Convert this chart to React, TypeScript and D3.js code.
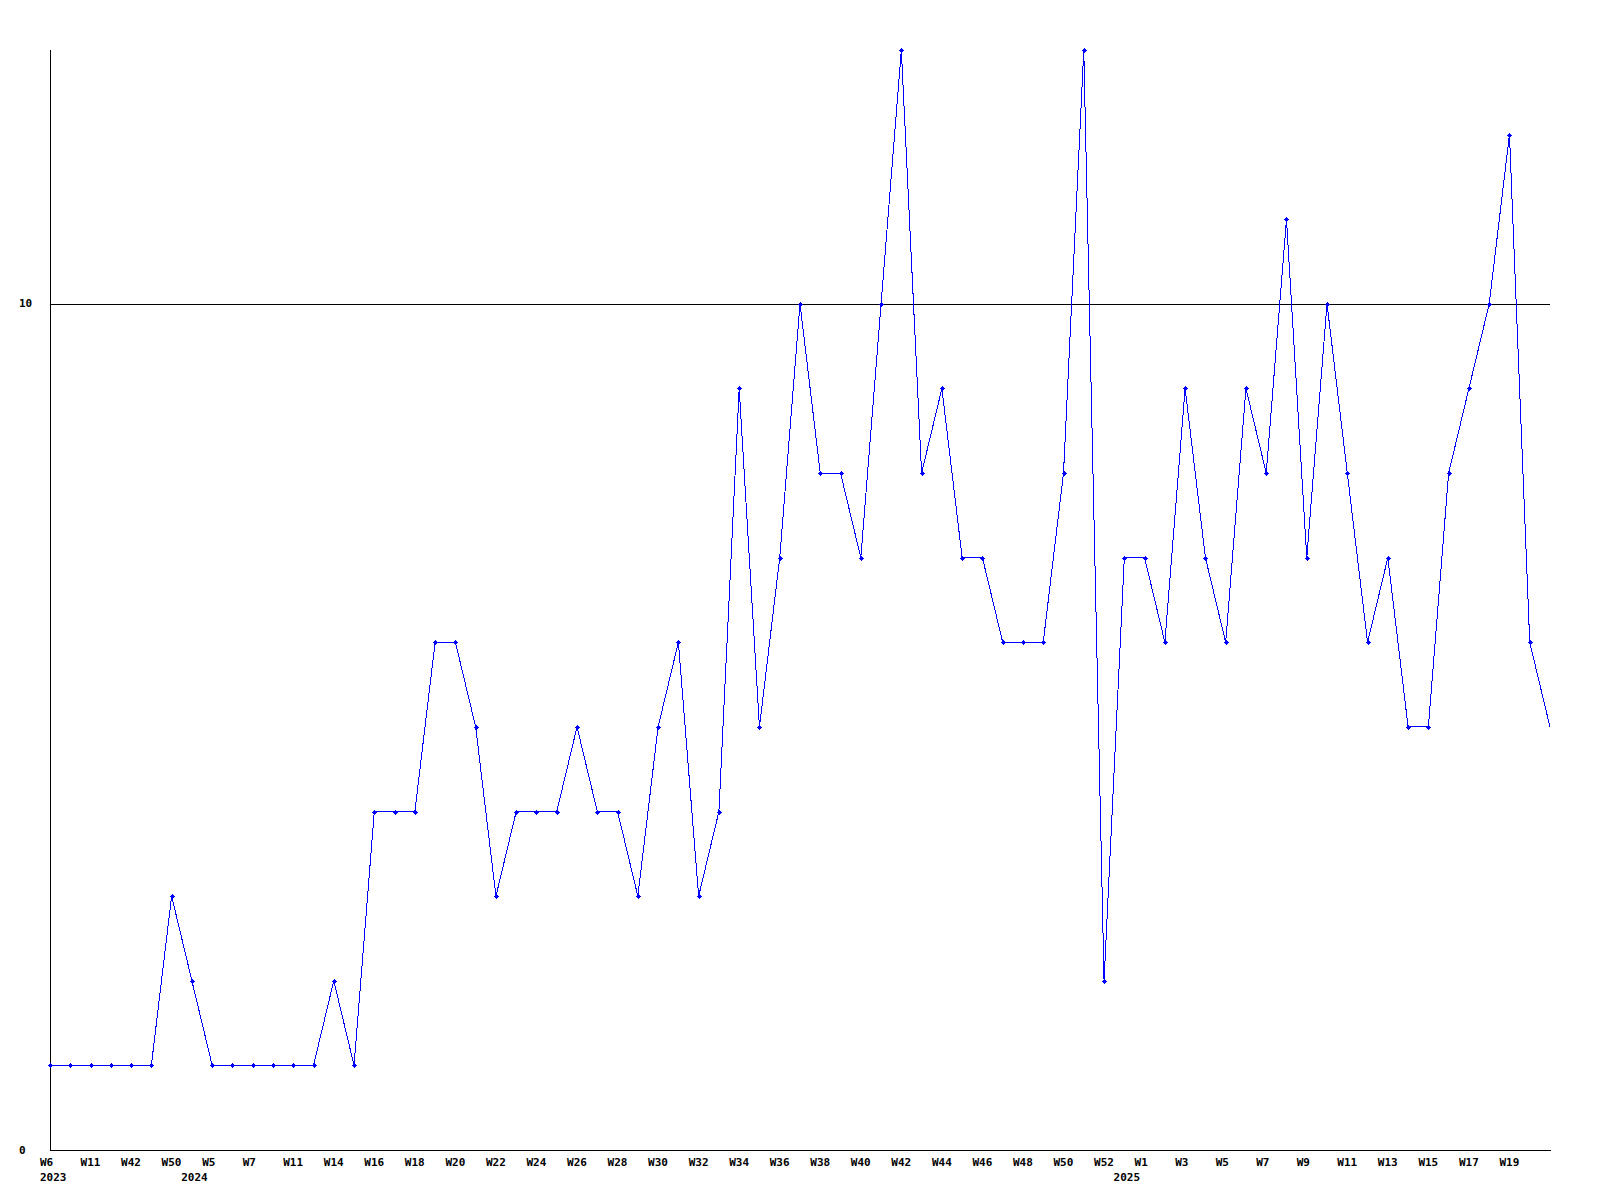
import React from "react";
import * as d3 from "d3";

const values: number[] = [
  1, 1, 1, 1, 1, 1, 3, 2, 1, 1, 1, 1, 1, 1, 2, 1, 4, 4, 4, 6,
  6, 5, 3, 4, 4, 4, 5, 4, 4, 3, 5, 6, 3, 4, 9, 5, 7, 10, 8, 8,
  7, 10, 13, 8, 9, 7, 7, 6, 6, 6, 8, 13, 2, 7, 7, 6, 9, 7, 6, 9,
  8, 11, 7, 10, 8, 6, 7, 5, 5, 8, 9, 10, 12, 6, 5,
];

const weekLabels: string[] = [
  "W6", "W11", "W42", "W50", "W5", "W7", "W11", "W14", "W16", "W18",
  "W20", "W22", "W24", "W26", "W28", "W30", "W32", "W34", "W36", "W38",
  "W40", "W42", "W44", "W46", "W48", "W50", "W52", "W1", "W3", "W5",
  "W7", "W9", "W11", "W13", "W15", "W17", "W19",
];

const yearLabels: string[] = ["2023", "2024", "2025"];
const yearPointIndex: number[] = [0, 8, 54];

const yTicks: number[] = [0, 10];
const yMax = 13;

const W = 1600;
const H = 1200;
const left = 50;
const right = 1550;
const top = 50;
const bottom = 1150;

export default function App() {
  const x = d3.scaleLinear().domain([0, values.length - 1]).range([left, right]);
  const y = d3.scaleLinear().domain([0, yMax]).range([bottom, top]);
  const line = d3
    .line<number>()
    .x((_, i) => x(i))
    .y((d) => y(d));

  const markerPath = (cx: number, cy: number) => {
    const a = Math.round(cx);
    const b = Math.round(cy);
    return `M${a - 1.5},${b - 1.5}h3v3h-3z M${a - 0.5},${b - 2.5}h1v5h-1z M${a - 2.5},${b - 0.5}h5v1h-5z`;
  };

  const font = "'DejaVu Sans Mono', monospace";

  return (
    <div style={{ position: "absolute", left: 0, top: 0 }}>
      <svg width={W} height={H} style={{ display: "block", background: "#fff" }}>
        <rect x={0} y={0} width={W} height={H} fill="#fff" />
        {yTicks
          .filter((t) => t > 0)
          .map((t) => (
            <line
              key={"g" + t}
              x1={left}
              x2={right}
              y1={Math.round(y(t)) + 0.5}
              y2={Math.round(y(t)) + 0.5}
              stroke="#000"
              strokeWidth={1}
              shapeRendering="crispEdges"
            />
          ))}
        <line x1={left + 0.5} x2={left + 0.5} y1={top} y2={bottom + 1} stroke="#000" shapeRendering="crispEdges" />
        <line x1={left} x2={right + 1} y1={bottom + 0.5} y2={bottom + 0.5} stroke="#000" shapeRendering="crispEdges" />
        {yTicks.map((t) => (
          <text
            key={"yt" + t}
            x={19}
            y={y(t)}
            dominantBaseline="central"
            fontFamily={font}
            fontWeight="bold"
            fontSize={11}
            fill="#000"
          >
            {t}
          </text>
        ))}
        <path d={line(values) || ""} fill="none" stroke="#0000ff" strokeWidth={1} shapeRendering="crispEdges" />
        {values.slice(0, values.length - 1).map((v, i) => (
          <path key={"m" + i} d={markerPath(x(i), y(v))} fill="#0000ff" shapeRendering="crispEdges" />
        ))}
        {weekLabels.map((l, i) => (
          <text
            key={"wl" + i}
            x={x(i * 2) - 10}
            y={1166}
            fontFamily={font}
            fontWeight="bold"
            fontSize={11}
            fill="#000"
          >
            {l}
          </text>
        ))}
        {yearLabels.map((l, i) => (
          <text
            key={"yl" + i}
            x={Math.max(x(yearPointIndex[i]) - 31, 40)}
            y={1181}
            fontFamily={font}
            fontWeight="bold"
            fontSize={11}
            fill="#000"
          >
            {l}
          </text>
        ))}
      </svg>
    </div>
  );
}
